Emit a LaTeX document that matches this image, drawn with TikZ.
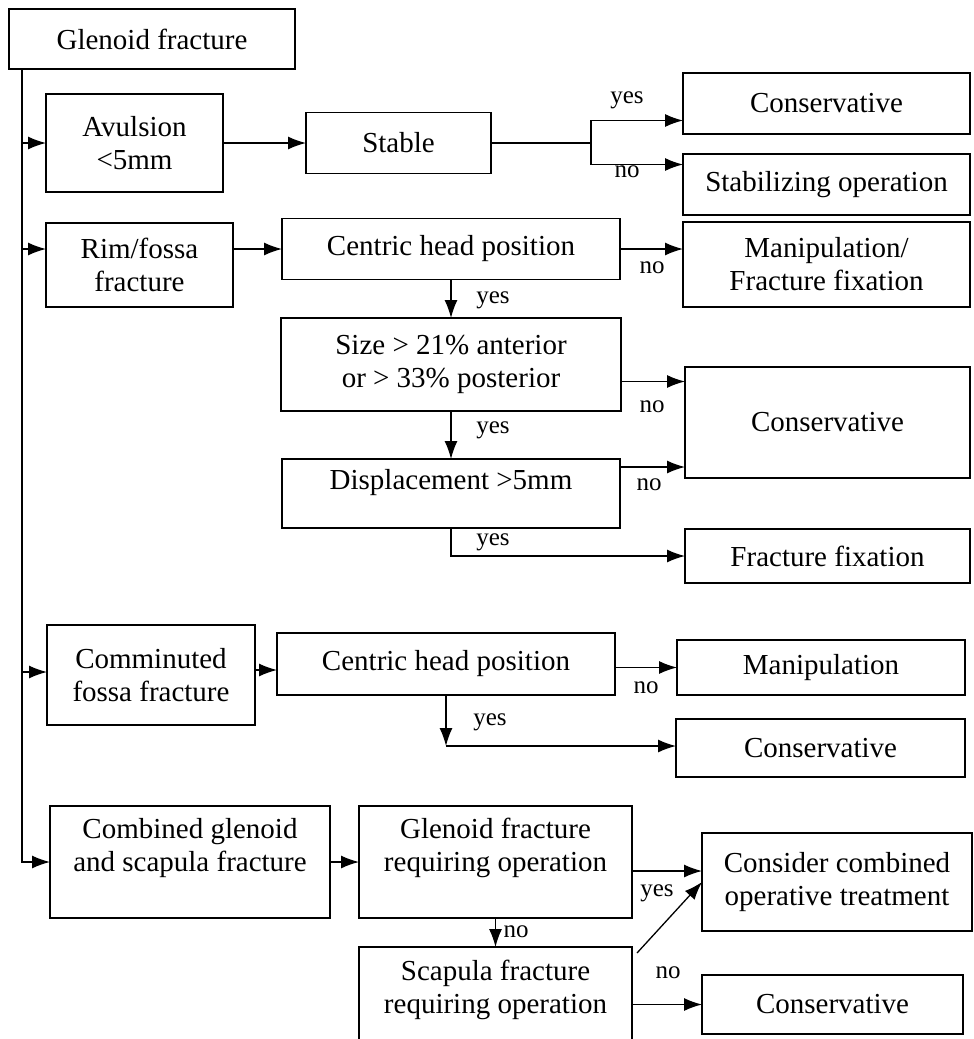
\documentclass[tikz,border=0pt]{standalone}
\usepackage{fontspec}
\setmainfont{Liberation Serif}
\usepackage{tikz}
\usetikzlibrary{arrows.meta}
\tikzstyle{block} = [draw, rectangle, inner sep=0pt, outer sep=0pt, align=center, font=\fontsize{29}{33}\selectfont]
\tikzstyle{blocktext} = [inner sep=0pt, align=center, font=\fontsize{29}{33}\selectfont]
\tikzstyle{answer} = [inner sep=0pt, font=\fontsize{25}{30}\selectfont]
\tikzstyle{link} = [-{Latex[length=18pt,width=13pt]}]
\tikzset{dims/.style 2 args={minimum width=#1pt, minimum height=#2pt}}

\begin{document}
\begin{tikzpicture}[x=1pt, y=-1pt, line width=1.3pt]
    \path [use as bounding box, fill=white] (0,0) rectangle (974,1039);
    \clip (0,0) rectangle (974,1039);

    \node [block, dims={286}{60}] (glenoid) at (152,39) {Glenoid fracture};
    \coordinate (trunk) at ([xshift=13pt]glenoid.south west);

    % avulsion
    \node [block, dims={177}{98}] (avulsion) at (134.5,143) {Avulsion\\<5mm};
    \node [block, dims={185}{61}] (stable) at (398.5,143) {Stable};
    \node [block, dims={287}{61}] (cons1) at (826.5,103.5) {Conservative};
    \node [block, dims={287}{61}] (stabop) at (826.5,184.5) {Stabilizing operation};
    \coordinate (split) at (591,143);
    \draw [link] (trunk |- avulsion) -- (avulsion);
    \draw [link] (avulsion) -- (stable);
    \draw (stable) -- (split);
    \draw [link] (split) |- ([yshift=-17pt]cons1.west);
    \draw [link] (split) |- ([yshift=20pt]stabop.west);
    \node [answer] (yes1) at (627,100) {yes};
    \node [answer] (no1) at (627,172) {no};

    % rim/fossa
    \node [block, dims={187}{84}] (rim) at (139.5,265) {Rim/fossa\\fracture};
    \node [block, dims={338}{61}] (centric1) at (451,249) {Centric head position};
    \node [block, dims={287}{85}] (manipfix) at (826.5,264.5) {Manipulation/\\Fracture fixation};
    \node [block, dims={340}{93}] (size) at (451,364.5) {Size > 21\% anterior\\or > 33\% posterior};
    \node [block, dims={285}{111}] (consbig) at (827.5,422.5) {Conservative};
    \node [block, dims={338}{69}, label={[blocktext, yshift=11pt]center:{Displacement >5mm}}] (displace) at (451,493.5) {};
    \node [block, dims={285}{54}] (fixation) at (827.5,556) {Fracture fixation};
    \draw [link] (trunk |- centric1) -- (rim.west |- centric1);
    \draw [link] (rim.east |- centric1) -- (centric1);
    \draw [link] (centric1) -- (centric1 -| manipfix.west);
    \node [answer] (no2) at (652,268) {no};
    \draw [link] (centric1) -- (size);
    \node [answer] (yes2) at (493,300) {yes};
    \draw [link] ([yshift=-17pt]size.east) -- ([yshift=-17pt]size.east -| consbig.west);
    \node [answer] (no3) at (652,407) {no};
    \draw [link] (size) -- (displace);
    \node [answer] (yes3) at (493,430) {yes};
    \draw [link] ([yshift=-8pt]displace.north east) -- ([yshift=-8pt]displace.north east -| consbig.west);
    \node [answer] (no4) at (649,485) {no};
    \draw [link] (displace.south) |- (fixation);
    \node [answer] (yes4) at (493,542) {yes};

    % comminuted
    \node [block, dims={208}{100}] (comminuted) at (151,675) {Comminuted\\fossa fracture};
    \node [block, dims={338}{62}] (centric2) at (446,664) {Centric head position};
    \node [block, dims={288}{55}] (manip) at (821,667.5) {Manipulation};
    \node [block, dims={289}{58}] (cons2) at (820.5,748) {Conservative};
    \coordinate (yescorner) at (446,746);
    \draw [link] ([yshift=3pt]trunk |- comminuted) -- ([yshift=3pt]comminuted.west);
    \draw [link] ([yshift=5pt]comminuted.east) -- ([yshift=5pt]comminuted.east -| centric2.west);
    \draw [link] (centric2.east |- manip) -- (manip);
    \node [answer] (no5) at (646,688) {no};
    \draw [link] (centric2.south) -- (yescorner);
    \draw [link] (yescorner) -- (yescorner -| cons2.west);
    \node [answer] (yes5) at (490,722) {yes};

    % combined
    \node [block, dims={280}{112}, label={[blocktext, yshift=14pt]center:{Combined glenoid\\and scapula fracture}}] (combined) at (190,862) {};
    \node [block, dims={273}{112}, label={[blocktext, yshift=14pt]center:{Glenoid fracture\\requiring operation}}] (glenreq) at (495.5,862) {};
    \node [block, dims={270}{98}] (consider) at (837,882) {Consider combined\\operative treatment};
    \node [block, dims={273}{112}, label={[blocktext, yshift=13pt]center:{Scapula fracture\\requiring operation}}] (scapula) at (495.5,1003) {};
    \node [block, dims={261}{59}] (cons3) at (832.5,1004.5) {Conservative};
    \draw [link] (trunk) |- (combined);
    \draw [link] (combined) -- (glenreq);
    \draw [link] ([yshift=-9pt]glenreq.east) -- ([yshift=-9pt]glenreq.east -| consider.west);
    \node [answer] (yes6) at (657,893) {yes};
    \draw [link] (glenreq) -- (scapula);
    \node [answer] (no6) at (516,932) {no};
    \draw [link] ([shift={(5pt,-6pt)}]scapula.north east) -- (consider.west);
    \draw [link] (scapula.east |- cons3) -- (cons3);
    \node [answer] (no7) at (668,973) {no};
\end{tikzpicture}
\end{document}
